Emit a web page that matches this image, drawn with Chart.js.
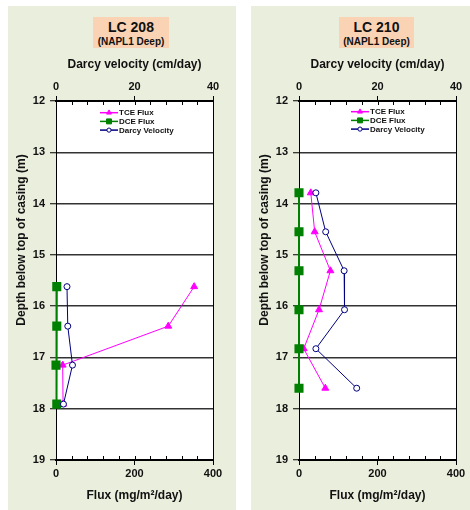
<!DOCTYPE html>
<html>
<head>
<meta charset="utf-8">
<script src="https://cdn.jsdelivr.net/npm/chart.js@4.4.1/dist/chart.umd.min.js"></script>
<style>
  body { margin: 0; width: 470px; height: 510px; overflow: hidden; position: relative; background: #fff;
         font-family: "Liberation Sans", Arial, sans-serif; }
  .panel { position: absolute; top: 6px; width: 228px; height: 504px; background: #EAEEDD; }
  #p1 { left: 8px; }
  #p2 { left: 251px; }
  .panel canvas { position: absolute; left: 0; top: 0; }
  .tbox { position: absolute; top: 11px; height: 31px; background: #F9D3B4; text-align: center;
          font-weight: bold; color: #111; z-index: 2; }
  .tbox .t1 { font-size: 14px; line-height: 18px; padding-top: 1px; }
  .tbox .t2 { font-size: 10px; line-height: 12px; }
</style>
</head>
<body>
<div class="panel" id="p1">
  <div class="tbox" style="left:85px;width:76px"><div class="t1">LC 208</div><div class="t2">(NAPL1 Deep)</div></div>
  <canvas id="c208" width="228" height="504"></canvas>
</div>
<div class="panel" id="p2">
  <div class="tbox" style="left:88px;width:75px"><div class="t1">LC 210</div><div class="t2">(NAPL1 Deep)</div></div>
  <canvas id="c210" width="228" height="504"></canvas>
</div>
<script>
// LC 208
const depth208 = [15.62, 16.39, 17.15, 17.91];
const tce208 = [352, 286, 17, 18];
const dce208 = [2, 2, 0, 2];
const darcy208 = [2.8, 3.0, 4.2, 1.9];

// LC 210
const depth210 = [13.79, 14.55, 15.31, 16.07, 16.83, 17.60];
const tce210 = [30, 40, 80, 51, 12, 67];
const dce210 = [0, 0, 0, 0, 0, 0];
const darcy210 = [4.3, 6.8, 11.5, 11.6, 4.3, 14.7];

// axis ranges / ticks
const fluxRange = [0, 400];
const darcyRange = [0, 40];
const depthRange = [12, 19];
const seriesNames = ["TCE Flux", "DCE Flux", "Darcy Velocity"];

const FONT = "'Liberation Sans', Arial, sans-serif";
const tickFont = { family: FONT, size: 11, weight: "bold" };
const titleFont = { family: FONT, size: 12, weight: "bold" };

const pts = (xs, ys) => xs.map((v, i) => ({ x: v, y: ys[i] }));

// white plot background, minor ticks, y title, legend
const extras = {
  id: "extras",
  beforeDraw(chart) {
    const a = chart.chartArea, ctx = chart.ctx;
    ctx.save();
    ctx.fillStyle = "#fff";
    ctx.fillRect(a.left, a.top, a.right - a.left, a.bottom - a.top);
    ctx.restore();
  },
  afterDraw(chart, args, opts) {
    const a = chart.chartArea, ctx = chart.ctx;
    ctx.save();
    ctx.strokeStyle = "#000";
    ctx.lineWidth = 1;
    // minor ticks inside on both x axes
    [["x", a.bottom, -1, 40], ["x2", a.top, 1, 4]].forEach(([id, y0, dir, step]) => {
      const s = chart.scales[id];
      for (let v = s.min; v <= s.max + 1e-9; v += step) {
        const px = Math.round(s.getPixelForValue(v)) + 0.5;
        ctx.beginPath();
        ctx.moveTo(px, y0);
        ctx.lineTo(px, y0 + dir * 4);
        ctx.stroke();
      }
    });
    // y axis title
    ctx.translate(opts.yTitleX, opts.yTitleY);
    ctx.rotate(-Math.PI / 2);
    ctx.font = "bold 12px " + FONT;
    ctx.fillStyle = "#111";
    ctx.textAlign = "center";
    ctx.textBaseline = "middle";
    ctx.fillText("Depth below top of casing (m)", 0, 0);
    ctx.restore();

    // legend
    ctx.save();
    ctx.font = "bold 8px " + FONT;
    ctx.textBaseline = "middle";
    chart.data.datasets.forEach((ds, i) => {
      const lx = a.left + opts.legendX, ly = a.top + opts.legendY + i * 8.7;
      ctx.strokeStyle = ds.borderColor;
      ctx.lineWidth = 1.5;
      ctx.beginPath();
      ctx.moveTo(lx, ly);
      ctx.lineTo(lx + 18, ly);
      ctx.stroke();
      ctx.fillStyle = ds.pointBackgroundColor;
      ctx.strokeStyle = ds.pointBorderColor;
      ctx.lineWidth = 1;
      Chart.helpers.drawPoint(ctx, { pointStyle: ds.pointStyle, radius: ds.pointRadius * 0.7, borderWidth: 1 }, lx + 9, ly);
      ctx.fillStyle = "#111";
      ctx.fillText(ds.label, lx + 19, ly + 0.5);
    });
    ctx.restore();
  }
};

function makeChart(id, depth, tce, dce, darcy, legendX, legendY) {
  return new Chart(document.getElementById(id), {
    type: "scatter",
    data: {
      datasets: [
        {
          label: seriesNames[0], data: pts(tce, depth), xAxisID: "x", showLine: true, clip: false,
          borderColor: "#FF00FF", borderWidth: 1, pointStyle: "triangle", pointRadius: 4,
          pointBackgroundColor: "#FF00FF", pointBorderColor: "#FF00FF", order: 3
        },
        {
          label: seriesNames[1], data: pts(dce, depth), xAxisID: "x", showLine: true, clip: false,
          borderColor: "#008000", borderWidth: 2, pointStyle: "rect", pointRadius: 5,
          pointBackgroundColor: "#008000", pointBorderColor: "#008000", order: 2
        },
        {
          label: seriesNames[2], data: pts(darcy, depth), xAxisID: "x2", showLine: true, clip: false,
          borderColor: "#000080", borderWidth: 1, pointStyle: "circle", pointRadius: 3,
          pointBackgroundColor: "#fff", pointBorderColor: "#000080", pointBorderWidth: 1, order: 1
        }
      ]
    },
    options: {
      responsive: false,
      animation: false,
      layout: { padding: 0 },
      plugins: {
        legend: { display: false },
        tooltip: { enabled: false },
        extras: { yTitleX: 14, yTitleY: 234, legendX: legendX, legendY: legendY }
      },
      scales: {
        x: {
          type: "linear", position: "bottom", min: fluxRange[0], max: fluxRange[1],
          ticks: { stepSize: 200, color: "#111", font: tickFont, padding: 2 },
          grid: { drawOnChartArea: false, tickLength: 5, color: "#000" },
          border: { color: "#000", width: 2 },
          title: { display: true, text: "Flux (mg/m²/day)", color: "#111", font: titleFont, padding: { top: 0, bottom: 7 } },
          afterFit: s => { s.height = 50; }
        },
        x2: {
          type: "linear", position: "top", min: darcyRange[0], max: darcyRange[1],
          ticks: { stepSize: 20, color: "#111", font: tickFont, padding: 2 },
          grid: { drawOnChartArea: false, tickLength: 5, color: "#000" },
          border: { color: "#000", width: 2 },
          title: { display: true, text: "Darcy velocity (cm/day)", color: "#111", font: titleFont, padding: { top: 51, bottom: 0 } },
          afterFit: s => { s.height = 95; }
        },
        y: {
          type: "linear", reverse: true, min: depthRange[0], max: depthRange[1],
          ticks: { stepSize: 1, color: "#111", font: tickFont, padding: 5 },
          grid: { color: "#333", lineWidth: 1.5, tickLength: 6, tickColor: "#000", tickWidth: 1 },
          border: { color: "#000", width: 1 },
          afterFit: s => { s.width = 48; }
        },
        y2: {
          type: "linear", position: "right", display: true,
          ticks: { display: false },
          grid: { display: false },
          border: { color: "#000", width: 1 },
          afterFit: s => { s.width = 23; }
        }
      }
    },
    plugins: [extras]
  });
}

makeChart("c208", depth208, tce208, dce208, darcy208, 44, 11.7);
makeChart("c210", depth210, tce210, dce210, darcy210, 52, 10.7);
</script>
</body>
</html>
